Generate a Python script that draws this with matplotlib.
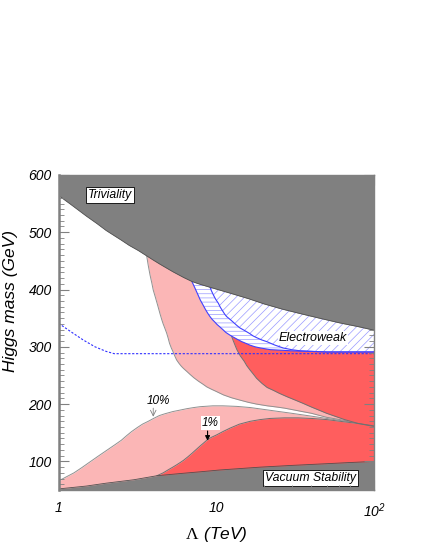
import matplotlib
matplotlib.use('Agg')
import matplotlib.pyplot as plt
from matplotlib.ticker import FixedLocator, FixedFormatter, LogLocator, MultipleLocator, NullFormatter

plt.rcParams['font.family'] = ['Liberation Sans', 'DejaVu Sans']
plt.rcParams['mathtext.fontset'] = 'custom'
plt.rcParams['mathtext.sf'] = 'Liberation Sans:italic'
plt.rcParams['mathtext.rm'] = 'Liberation Serif'
plt.rcParams['hatch.linewidth'] = 0.5

# boundaries (Lambda in TeV, Higgs mass in GeV)
triv_lam = [1, 1.2, 1.5, 1.75, 2, 2.25, 2.5, 2.8, 3.2, 3.6, 4.0, 4.4, 5.3, 6.2, 7, 7.9, 9.1, 10.5, 12.8, 16, 20, 26, 34, 45, 60, 80, 100]
triv_m = [564, 548, 528, 515, 503, 494, 486, 477, 468, 459, 451, 444, 431, 421, 414, 409, 404, 399, 392, 384, 375, 366, 358, 350, 342, 335, 329]

vac_lam = [1, 1.5, 2, 3, 4.2, 6, 8, 10.5, 15, 19, 30, 50, 70, 100]
vac_m = [52, 57, 62, 68, 75, 79, 82, 85, 88, 90, 93, 96, 98, 100]

# 10% fine tuning, lower band (upper edge)
lo10_lam = [1, 1.1, 1.25, 1.4, 1.54, 1.8, 2.06, 2.3, 2.5, 2.7, 2.9, 3.15, 3.4, 3.7, 4.0, 4.35, 4.7, 5.3, 6.0, 6.5, 7.2, 7.9, 9.5, 11, 13.5, 16.4, 20.9, 25, 30, 40, 50, 70, 100]
lo10_m = [66, 72, 80, 89, 97, 110, 121, 130, 137, 145, 152, 159, 165, 170, 175, 180, 183, 187, 190, 192, 194, 195.5, 197, 197, 196, 194, 190, 187, 184, 179, 175, 169, 162]

# 10% fine tuning, upper band (lower edge)
up10_lam = [3.62, 3.7, 3.8, 3.9, 3.98, 4.1, 4.2, 4.3, 4.39, 4.5, 4.6, 4.72, 4.84, 4.95, 5.05, 5.18, 5.3, 5.45, 5.6, 5.8, 6.0, 6.2, 6.5, 6.8, 7.2, 7.7, 8.2, 8.7, 9.3, 10, 11.1, 12.5, 14.1, 16, 18, 21, 24, 27, 30.8, 35, 40, 50, 63.6, 80, 100]
up10_m = [458, 442, 425, 411, 399, 387, 377, 367, 358, 348, 340, 332, 324, 315, 306, 298, 292, 284, 277, 271, 266, 262, 257, 252, 246, 240, 235, 230, 226, 222, 216, 211, 207, 203, 200, 197, 195, 193, 190, 187, 184, 177, 172, 167, 162]

# 1% fine tuning, lower band (upper edge)
lo1_lam = [4.2, 4.6, 5.0, 5.3, 5.6, 5.9, 6.2, 6.6, 7.0, 7.4, 7.9, 8.3, 8.7, 9.3, 10, 11, 12.2, 14, 16.4, 19, 22, 27, 33, 40, 50, 65, 80, 100]
lo1_m = [75, 80, 86, 90, 94, 98, 102, 108, 114, 120, 127, 132, 137, 142, 146, 152, 158, 165, 170, 173, 175, 176, 176, 175, 173, 169, 166, 162]

# 1% fine tuning, upper band (lower edge)
up1_lam = [10.5, 10.8, 11.0, 11.3, 11.6, 12.0, 12.5, 13.0, 13.5, 14.2, 15.0, 15.6, 16.3, 17.2, 18.0, 19.5, 21, 23, 25, 28, 31, 35, 40, 50, 65, 80, 100]
up1_m = [404, 383, 370, 356, 345, 331, 318, 306, 295, 284, 275, 267, 260, 252, 245, 236, 229, 224, 219, 213, 208, 202, 195, 184, 173, 166, 161]

# electroweak precision bounds
ew_out_lam = [7, 7.25, 7.5, 7.7, 7.9, 8.2, 8.5, 8.8, 9.1, 9.4, 9.8, 10.1, 10.5, 11.0, 11.5, 12.1, 12.8, 13.6, 14.5, 15.4, 16.3, 17.6, 19, 22, 26, 30, 40, 50, 70, 100]
ew_out_m = [414, 405, 396, 389, 382, 374, 366, 359, 353, 348, 343, 339, 335, 330, 325, 321, 317, 313, 309, 306, 303, 300, 298, 295, 294, 293, 292, 291, 291, 291]
ew_in_lam = [9.1, 9.3, 9.6, 9.9, 10.3, 10.6, 11.0, 11.3, 11.6, 12.2, 12.8, 13.4, 14.1, 15.2, 16.3, 17.1, 18.0, 19.4, 20.9, 23.5, 26.5, 30, 34, 40, 50, 70, 100]
ew_in_m = [405, 398, 390, 383, 376, 369, 362, 357, 353, 348, 343, 338, 333, 328, 323, 319, 316, 312, 309, 303, 298, 295, 293, 292, 291, 291, 291]

dash_lam = [1, 1.2, 1.43, 1.7, 2.0, 2.25, 100]
dash_m = [341, 326, 312, 300, 292, 288, 288]

ylo, yhi = 50, 600

fig = plt.figure(figsize=(4.25, 5.5), dpi=100)
ax = fig.add_axes([0.138, 0.109, 0.742, 0.573])
ax.set_xscale('log')

light_red = '#fbb6b6'
dark_red = '#ff5e5e'

ax.fill_between(lo10_lam, ylo, lo10_m, color=light_red, linewidth=0, zorder=1)
ax.fill_between(up10_lam, up10_m, yhi, color=light_red, linewidth=0, zorder=1)
ax.plot(lo10_lam, lo10_m, color='#909090', lw=0.7, zorder=1.5)
ax.plot(up10_lam, up10_m, color='#909090', lw=0.7, zorder=1.5)

ax.fill_between(lo1_lam, ylo, lo1_m, color=dark_red, linewidth=0, zorder=2)
ax.fill_between(up1_lam, up1_m, yhi, color=dark_red, linewidth=0, zorder=2)
ax.plot(lo1_lam, lo1_m, color='#707070', lw=0.7, zorder=2.5)
ax.plot(up1_lam, up1_m, color='#707070', lw=0.7, zorder=2.5)

ax.fill_between(ew_out_lam, ew_out_m, yhi, facecolor='white', edgecolor='#9a9aff',
                hatch='----', linewidth=0, zorder=3)
ax.fill_between(ew_in_lam, ew_in_m, yhi, facecolor='white', edgecolor='#9a9aff',
                hatch='////', linewidth=0, zorder=3.2)
ax.plot(ew_out_lam, ew_out_m, color='#4040ff', lw=0.8, zorder=3.5)
ax.plot(ew_in_lam, ew_in_m, color='#4040ff', lw=0.8, zorder=3.5)

ax.plot(dash_lam, dash_m, color='#3030ff', lw=0.8, ls=(0, (2, 1.5)), zorder=3.6)

ax.fill_between(triv_lam, triv_m, yhi, color='#808080', linewidth=0, zorder=4)
ax.plot(triv_lam, triv_m, color='#505050', lw=0.6, zorder=4.1)
ax.fill_between(vac_lam, ylo, vac_m, color='#808080', linewidth=0, zorder=4)
ax.plot(vac_lam, vac_m, color='#505050', lw=0.6, zorder=4.1)

ax.set_xlim(1, 100)
ax.set_ylim(ylo, yhi)

box_black = dict(boxstyle='square,pad=0.15', facecolor='white', edgecolor='black', linewidth=0.6)
box_white = dict(boxstyle='square,pad=0.1', facecolor='white', edgecolor='none')
ax.text(2.12, 565, 'Triviality', fontsize=8.8, style='italic', ha='center', va='center',
        bbox=box_black, zorder=6)
ax.text(39.7, 71, 'Vacuum Stability', fontsize=8.8, style='italic', ha='center', va='center',
        bbox=box_black, zorder=6)
ax.text(41, 315, 'Electroweak', fontsize=9, style='italic', ha='center', va='center',
        bbox=box_white, zorder=6)
ax.text(4.27, 206, '10%', fontsize=8.5, style='italic', ha='center', va='center', zorder=6)
ax.text(9.2, 167, '1%', fontsize=8.5, style='italic', ha='center', va='center',
        bbox=box_white, zorder=6)
ax.annotate('', xy=(3.98, 178), xytext=(3.98, 193),
            arrowprops=dict(arrowstyle='->', color='#808080', lw=0.6, shrinkA=0, shrinkB=0), zorder=6)
ax.annotate('', xy=(8.8, 136), xytext=(8.8, 153),
            arrowprops=dict(arrowstyle='-|>', color='black', lw=0.8, shrinkA=0, shrinkB=0,
                            mutation_scale=7), zorder=6)

ax.xaxis.set_major_locator(FixedLocator([1, 10, 100]))
ax.xaxis.set_major_formatter(FixedFormatter(['1', '10', r'$\mathsf{10^2}$']))
ax.xaxis.set_minor_locator(LogLocator(base=10, subs=range(2, 10)))
ax.xaxis.set_minor_formatter(NullFormatter())
ax.yaxis.set_minor_locator(MultipleLocator(10))
ax.set_yticks([100, 200, 300, 400, 500, 600])

ax.tick_params(which='both', direction='in', top=True, right=True, color='#808080')
ax.tick_params(which='major', length=7, width=0.8)
ax.tick_params(which='minor', length=3.5, width=0.6)
ax.tick_params(axis='x', which='major', pad=8, labelsize=10)
ax.tick_params(axis='y', which='major', pad=5, labelsize=10)
for lab in ax.get_xticklabels() + ax.get_yticklabels():
    lab.set_fontstyle('italic')

for side, sp in ax.spines.items():
    sp.set_color('#808080')
    sp.set_linewidth(1.0)
    sp.set_zorder(10)
ax.spines['left'].set_linewidth(1.8)
ax.xaxis.set_zorder(9)
ax.yaxis.set_zorder(9)

ax.set_xlabel(r'$\Lambda\ \mathsf{(TeV)}$', fontsize=12.5, labelpad=4)
ax.set_ylabel('Higgs mass (GeV)', fontsize=12.5, style='italic')
ax.yaxis.set_label_coords(-0.13, 0.6)

fig.savefig('out.png', dpi=100)
